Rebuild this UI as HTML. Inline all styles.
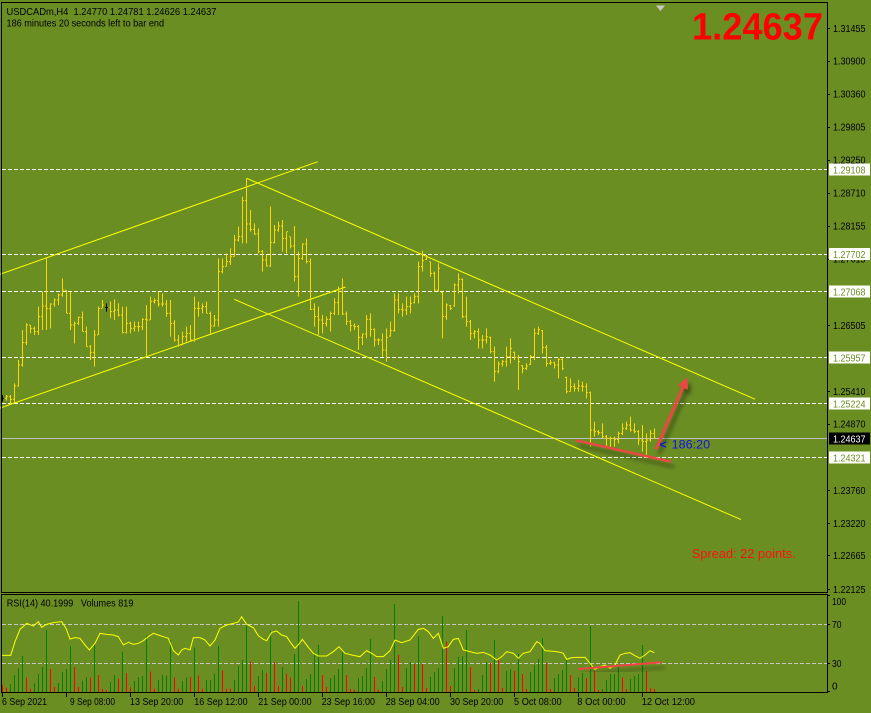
<!DOCTYPE html>
<html><head><meta charset="utf-8"><style>
html,body{margin:0;padding:0;background:#6B8E23;width:871px;height:713px;overflow:hidden}
svg{display:block}
text{font-family:"Liberation Sans","DejaVu Sans",sans-serif;white-space:pre}
</style></head><body>
<svg width="871" height="713" viewBox="0 0 871 713" xmlns="http://www.w3.org/2000/svg">
<defs>
<filter id="sh" x="-20%" y="-20%" width="140%" height="160%">
<feGaussianBlur in="SourceAlpha" stdDeviation="2"/>
<feOffset dx="3" dy="5" result="b"/>
<feComponentTransfer><feFuncA type="linear" slope="0.45"/></feComponentTransfer>
<feMerge><feMergeNode/><feMergeNode in="SourceGraphic"/></feMerge>
</filter>
</defs>
<rect width="871" height="713" fill="#6B8E23"/>

<g stroke="#ffffff" stroke-width="1" stroke-dasharray="4 2" fill="none">
<path d="M2 169.5H827M2 254.5H827M2 291.5H827M2 357.5H827M2 403.5H827M2 457.5H827"/>
</g>
<path d="M2 438.5H827" stroke="#c0c0c0" stroke-width="1"/>

<g stroke="#ffff00" stroke-width="1" fill="none">
<path d="M0 274.3L317.7 161.7"/>
<path d="M0 408L345.5 287"/>
<path d="M246.7 178.3L755 399.2"/>
<path d="M234.3 299.3L741 519.6"/>
</g>

<g transform="translate(0 160) scale(1 0.333333)">
<path vector-effect="non-scaling-stroke" stroke="#FFD700" stroke-width="1" fill="none" d="M6.5 705V722M5 715h1M7 710h1M10.5 705V735M9 710h1M11 718h1M14.5 670V730M13 718h1M15 678h1M18.5 600V680M17 678h1M19 615h1M22.5 510V620M21 615h1M23 548h1M26.5 490V555M25 548h1M27 495h1M30.5 495V520M29 495h1M31 505h1M34.5 500V525M33 505h1M35 515h1M38.5 440V525M37 515h1M39 470h1M42.5 395V510M41 470h1M43 438h1M46.5 295V510M45 438h1M47 445h1M50.5 430V505M49 445h1M51 432h1M54.5 415V440M53 432h1M55 420h1M58.5 400V435M57 420h1M59 405h1M62.5 355V410M61 405h1M63 390h1M66.5 390V460M65 390h1M67 460h1M70.5 395V510M69 460h1M71 495h1M74.5 485V550M73 495h1M75 490h1M78.5 470V495M77 490h1M79 472h1M82.5 455V515M81 472h1M83 515h1M86.5 500V560M85 515h1M87 560h1M90.5 555V600M89 560h1M91 577h1M94.5 510V620M93 577h1M95 525h1M98.5 440V525M97 525h1M99 445h1M102.5 420V445M101 445h1M103 435h1M110.5 425V475M109 442h1M111 455h1M114.5 418V480M113 455h1M115 450h1M118.5 430V470M117 450h1M119 465h1M122.5 440V520M121 465h1M123 518h1M126.5 440V520M125 518h1M127 490h1M130.5 485V520M129 490h1M131 505h1M134.5 485V515M133 505h1M135 500h1M138.5 485V515M137 500h1M139 500h1M142.5 475V510M141 500h1M143 478h1M146.5 435V590M145 478h1M147 480h1M150.5 410V480M149 480h1M151 425h1M154.5 415V430M153 425h1M155 422h1M158.5 395V440M157 422h1M159 432h1M162.5 400V440M161 432h1M163 432h1M166.5 420V470M165 432h1M167 460h1M170.5 420V530M169 460h1M171 490h1M174.5 480V545M173 490h1M175 540h1M178.5 525V560M177 540h1M179 555h1M182.5 515V555M181 555h1M183 530h1M186.5 500V545M185 530h1M187 520h1M190.5 495V545M189 520h1M191 540h1M194.5 410V545M193 540h1M195 445h1M198.5 425V470M197 445h1M199 445h1M202.5 430V460M201 445h1M203 440h1M206.5 425V460M205 440h1M207 460h1M210.5 455V520M209 460h1M211 498h1M214.5 465V500M213 498h1M215 480h1M218.5 295V500M217 480h1M219 335h1M222.5 295V340M221 335h1M223 320h1M226.5 280V320M225 320h1M227 305h1M230.5 265V315M229 305h1M231 290h1M234.5 225V290M233 290h1M235 240h1M238.5 200V245M237 240h1M239 230h1M242.5 110V250M241 230h1M243 122h1M246.5 55V250M245 122h1M247 192h1M250.5 150V215M249 192h1M251 208h1M254.5 190V225M253 208h1M255 222h1M258.5 205V280M257 222h1M259 275h1M262.5 270V335M261 275h1M263 300h1M266.5 285V320M265 300h1M267 318h1M270.5 140V320M269 318h1M271 248h1M274.5 195V250M273 248h1M275 210h1M278.5 185V215M277 210h1M279 198h1M282.5 180V275M281 198h1M283 235h1M286.5 215V280M285 235h1M287 215h1M290.5 230V265M289 230h1M291 258h1M294.5 198V365M293 258h1M295 350h1M298.5 275V410M297 350h1M299 295h1M302.5 250V300M301 295h1M303 252h1M306.5 235V310M305 252h1M307 305h1M310.5 295V450M309 305h1M311 448h1M314.5 430V500M313 448h1M315 470h1M318.5 440V525M317 470h1M319 480h1M322.5 465V520M321 480h1M323 490h1M326.5 470V500M325 490h1M327 478h1M330.5 455V515M329 478h1M331 460h1M334.5 415V465M333 460h1M335 428h1M338.5 380V465M337 428h1M339 395h1M342.5 355V465M341 395h1M343 462h1M346.5 455V495M345 462h1M347 485h1M350.5 480V515M349 485h1M351 497h1M354.5 490V510M353 497h1M355 500h1M358.5 495V570M357 500h1M359 532h1M362.5 520V555M361 532h1M363 522h1M366.5 465V535M365 522h1M367 478h1M370.5 460V530M369 478h1M371 508h1M374.5 505V560M373 508h1M375 540h1M378.5 535V555M377 540h1M379 540h1M382.5 520V590M381 540h1M383 570h1M386.5 505V605M385 570h1M387 532h1M390.5 485V530M389 528h1M391 512h1M394.5 400V515M393 512h1M395 420h1M398.5 400V460M397 420h1M399 448h1M402.5 430V470M401 448h1M403 450h1M406.5 410V465M405 450h1M407 440h1M410.5 410V460M409 440h1M411 430h1M414.5 400V430M413 428h1M415 410h1M418.5 305V430M417 410h1M419 320h1M422.5 272V335M421 320h1M423 302h1M426.5 285V300M425 298h1M427 290h1"/>
<path vector-effect="non-scaling-stroke" stroke="#000000" stroke-width="1" fill="none" d="M2.5 705V725M1 715h3M106.5 430V455M105 442h3"/>
</g>
<g transform="translate(0 240) scale(1 0.333333)">
<path vector-effect="non-scaling-stroke" stroke="#FFD700" stroke-width="1" fill="none" d="M430.5 65V110M429 65h1M431 100h1M434.5 95V155M433 100h1M435 150h1M438.5 70V155M437 150h1M439 85h1M442.5 155V295M441 157h1M443 230h1M446.5 190V240M445 230h1M447 195h1M450.5 195V210M449 197h1M451 205h1M454.5 130V200M453 198h1M455 135h1M458.5 100V160M457 135h1M459 118h1M462.5 115V235M461 118h1M463 230h1M466.5 170V260M465 230h1M467 245h1M470.5 240V300M469 245h1M471 280h1M474.5 270V295M473 280h1M475 275h1M478.5 265V325M477 275h1M479 300h1M482.5 285V325M481 300h1M483 300h1M486.5 265V310M485 300h1M487 290h1M490.5 290V340M489 292h1M491 335h1M494.5 320V425M493 335h1M495 395h1M498.5 365V400M497 395h1M499 372h1M502.5 360V380M501 372h1M503 365h1M506.5 320V380M505 365h1M507 350h1M510.5 295V370M509 350h1M511 325h1M514.5 335V360M513 337h1M515 352h1M518.5 345V450M517 352h1M519 365h1M522.5 375V400M521 377h1M523 385h1M526.5 370V390M525 385h1M527 378h1M530.5 345V375M529 373h1M531 350h1M534.5 265V360M533 350h1M535 280h1M538.5 260V285M537 280h1M539 268h1M542.5 270V340M541 272h1M543 322h1M546.5 315V380M545 322h1M547 370h1M550.5 360V375M549 370h1M551 368h1M554.5 365V385M553 368h1M555 375h1M558.5 355V415M557 375h1M559 358h1M562.5 355V390M561 358h1M563 385h1M566.5 410V460M565 412h1M567 455h1M570.5 415V455M569 455h1M571 440h1M574.5 430V455M573 440h1M575 445h1M578.5 420V455M577 445h1M579 438h1M582.5 425V455M581 438h1M583 440h1M586.5 430V475M585 440h1M587 458h1M590.5 455V620M589 458h1M591 570h1M594.5 545V590M593 570h1M595 575h1M598.5 570V585M597 575h1M599 578h1M602.5 550V595M601 578h1M603 590h1M606.5 585V620M605 590h1M607 595h1M610.5 590V625M609 595h1M611 595h1M614.5 590V620M613 595h1M615 598h1M618.5 575V610M617 598h1M619 580h1M622.5 550V585M621 580h1M623 565h1M626.5 545V570M625 565h1M627 555h1M630.5 530V575M629 555h1M631 570h1M634.5 550V580M633 570h1M635 575h1M638.5 570V615M637 575h1M639 600h1M642.5 555V635M641 600h1M643 605h1M646.5 580V645M645 605h1M647 600h1M650.5 570V605M649 600h1M651 580h1M654.5 565V595M653 580h1M655 595h1"/>
</g>

<g filter="url(#sh)">
<path d="M575.7 440.3L671 461.7" stroke="#ee4444" stroke-width="2.5" fill="none"/>
<path d="M656 449.3L682.9 387.4" stroke="#ee4444" stroke-width="3" fill="none"/>
<path d="M687.3 377.3L687.8 389.6L677.9 385.3Z" fill="#ee4444"/>
</g>

<text x="659.5" y="448.5" font-size="12" font-weight="bold" fill="#1010ee">&lt;</text>
<text x="671.7" y="448.3" font-size="11.5" fill="#1010ee" textLength="38.5" lengthAdjust="spacingAndGlyphs">186:20</text>

<text x="692" y="39.3" font-size="38" font-weight="bold" fill="#ff0000" textLength="131" lengthAdjust="spacingAndGlyphs">1.24637</text>
<text x="691.7" y="558" font-size="13" fill="#ff1010" textLength="104" lengthAdjust="spacingAndGlyphs">Spread: 22 points.</text>

<text x="6.5" y="15" font-size="10.5" fill="#000" textLength="210" lengthAdjust="spacingAndGlyphs">USDCADm,H4  1.24770 1.24781 1.24626 1.24637</text>
<text x="6.5" y="26.7" font-size="10.5" fill="#000" textLength="157.6" lengthAdjust="spacingAndGlyphs">186 minutes 20 seconds left to bar end</text>

<path d="M656 5.5H665L660.5 11Z" fill="#c8c8c8"/>

<g font-size="10" fill="#000">
<text x="833" y="32.2" textLength="32.5" lengthAdjust="spacingAndGlyphs">1.31455</text>
<text x="833" y="64.5" textLength="32.5" lengthAdjust="spacingAndGlyphs">1.30900</text>
<text x="833" y="97.5" textLength="32.5" lengthAdjust="spacingAndGlyphs">1.30360</text>
<text x="833" y="130.5" textLength="32.5" lengthAdjust="spacingAndGlyphs">1.29805</text>
<text x="833" y="163.5" textLength="32.5" lengthAdjust="spacingAndGlyphs">1.29250</text>
<text x="833" y="196.5" textLength="32.5" lengthAdjust="spacingAndGlyphs">1.28710</text>
<text x="833" y="229.5" textLength="32.5" lengthAdjust="spacingAndGlyphs">1.28155</text>
<text x="833" y="262.5" textLength="32.5" lengthAdjust="spacingAndGlyphs">1.27615</text>
<text x="833" y="329.2" textLength="32.5" lengthAdjust="spacingAndGlyphs">1.26505</text>
<text x="833" y="394.8" textLength="32.5" lengthAdjust="spacingAndGlyphs">1.25410</text>
<text x="833" y="427.5" textLength="32.5" lengthAdjust="spacingAndGlyphs">1.24870</text>
<text x="833" y="494.2" textLength="32.5" lengthAdjust="spacingAndGlyphs">1.23760</text>
<text x="833" y="526.8" textLength="32.5" lengthAdjust="spacingAndGlyphs">1.23220</text>
<text x="833" y="559.2" textLength="32.5" lengthAdjust="spacingAndGlyphs">1.22665</text>
<text x="833" y="592.8" textLength="32.5" lengthAdjust="spacingAndGlyphs">1.22125</text>
</g>
<path stroke="#000" stroke-width="1" d="M827 28.5h3M827 61.5h3M827 94.5h3M827 127.5h3M827 160.5h3M827 193.5h3M827 226.5h3M827 259.5h3M827 325.5h3M827 391.5h3M827 424.5h3M827 490.5h3M827 523.5h3M827 555.5h3M827 589.5h3"/>

<g font-size="10">
<rect x="829" y="163.5" width="41" height="12" fill="#fff"/>
<text x="833" y="173.3" fill="#6B8E23" textLength="32.5" lengthAdjust="spacingAndGlyphs">1.29108</text>
<rect x="829" y="248" width="41" height="12" fill="#fff"/>
<text x="833" y="257.8" fill="#6B8E23" textLength="32.5" lengthAdjust="spacingAndGlyphs">1.27702</text>
<rect x="829" y="285.5" width="41" height="12" fill="#fff"/>
<text x="833" y="295.3" fill="#6B8E23" textLength="32.5" lengthAdjust="spacingAndGlyphs">1.27068</text>
<rect x="829" y="351.5" width="41" height="12" fill="#fff"/>
<text x="833" y="361.3" fill="#6B8E23" textLength="32.5" lengthAdjust="spacingAndGlyphs">1.25957</text>
<rect x="829" y="397.5" width="41" height="12" fill="#fff"/>
<text x="833" y="407.3" fill="#6B8E23" textLength="32.5" lengthAdjust="spacingAndGlyphs">1.25224</text>
<rect x="829" y="432.5" width="41" height="12" fill="#000"/>
<text x="833" y="442.3" fill="#fff" textLength="32.5" lengthAdjust="spacingAndGlyphs">1.24637</text>
<rect x="829" y="451.5" width="41" height="12" fill="#fff"/>
<text x="833" y="461.3" fill="#6B8E23" textLength="32.5" lengthAdjust="spacingAndGlyphs">1.24321</text>
</g>

<rect x="828" y="593" width="43" height="2" fill="#6B8E23"/>

<path d="M2 624.5H827M2 663.5H827" stroke="#c8c8c8" stroke-width="1" stroke-dasharray="4 2" fill="none"/>

<g transform="translate(0 590) scale(1 0.333333)">
<path vector-effect="non-scaling-stroke" stroke="#008000" stroke-width="1" fill="none" d="M10.5 306V282M14.5 306V255M18.5 306V235M22.5 306V198M34.5 306V280M38.5 306V252M42.5 306V231M46.5 306V120M58.5 306V279M62.5 306V246M66.5 306V237M70.5 306V168M82.5 306V272M86.5 306V262M94.5 306V160M110.5 306V276M114.5 306V255M122.5 306V185M134.5 306V273M138.5 306V261M142.5 306V258M146.5 306V137M158.5 306V270M162.5 306V255M166.5 306V257M170.5 306V150M182.5 306V273M186.5 306V262M194.5 306V173M206.5 306V270M210.5 306V270M214.5 306V251M218.5 306V168M234.5 306V270M238.5 306V228M242.5 306V210M246.5 306V104M258.5 306V258M262.5 306V240M270.5 306V123M282.5 306V231M294.5 306V192M298.5 306V33M306.5 306V267M310.5 306V252M314.5 306V188M318.5 306V165M330.5 306V264M334.5 306V255M338.5 306V237M342.5 306V183M358.5 306V264M362.5 306V258M366.5 306V234M370.5 306V147M382.5 306V273M386.5 306V237M390.5 306V210M394.5 306V42M406.5 306V234M410.5 306V216M418.5 306V138M430.5 306V261M434.5 306V246M438.5 306V234M442.5 306V78M454.5 306V234M458.5 306V201M462.5 306V198M466.5 306V120M478.5 306V297M482.5 306V255M486.5 306V216M494.5 306V150M506.5 306V243M510.5 306V237M518.5 306V192M530.5 306V246M534.5 306V225M538.5 306V207M542.5 306V144M554.5 306V264M558.5 306V252M562.5 306V240M566.5 306V210M578.5 306V262M582.5 306V249M590.5 306V108M602.5 306V297M606.5 306V270M610.5 306V252M614.5 306V252M618.5 306V231M630.5 306V267M634.5 306V258M638.5 306V252M642.5 306V165"/>
<path vector-effect="non-scaling-stroke" stroke="#ff0000" stroke-width="1" fill="none" d="M2.5 306V285M6.5 306V293M26.5 306V262M30.5 306V296M50.5 306V237M54.5 306V291M74.5 306V231M78.5 306V291M90.5 306V262M98.5 306V255M102.5 306V297M106.5 306V300M118.5 306V266M126.5 306V249M130.5 306V292M150.5 306V245M154.5 306V296M174.5 306V262M178.5 306V296M190.5 306V261M198.5 306V257M202.5 306V296M222.5 306V242M226.5 306V296M230.5 306V296M250.5 306V215M254.5 306V288M266.5 306V248M274.5 306V216M278.5 306V288M286.5 306V251M290.5 306V262M302.5 306V288M322.5 306V255M326.5 306V291M346.5 306V255M350.5 306V297M354.5 306V299M374.5 306V261M378.5 306V299M398.5 306V195M402.5 306V291M414.5 306V222M422.5 306V222M426.5 306V294M446.5 306V155M450.5 306V288M470.5 306V231M474.5 306V300M490.5 306V219M498.5 306V210M502.5 306V294M514.5 306V243M522.5 306V252M526.5 306V297M546.5 306V219M550.5 306V297M570.5 306V255M574.5 306V294M586.5 306V264M594.5 306V243M598.5 306V300M622.5 306V262M626.5 306V297M646.5 306V243M650.5 306V294M654.5 306V297"/>
</g>

<g fill="none" stroke="#ffff00" stroke-width="1">
<polyline vector-effect="non-scaling-stroke" transform="translate(0 590) scale(0.333333)" points="5,196 32,196 45,155 60,118 80,100 100,108 115,95 125,112 140,103 160,98 185,95 198,115 210,147 225,143 240,145 255,165 268,180 285,160 300,130 320,133 340,135 355,140 370,165 385,157 400,163 415,160 430,152 445,140 460,130 475,135 490,140 505,145 520,182 535,195 545,180 555,175 570,180 580,143 600,143 615,150 630,168 645,150 660,115 680,105 700,100 715,96 725,80 740,103 760,113 775,137 790,148 800,152 815,127 830,123 845,135 860,140 870,155 885,175 900,158"/>
<polyline vector-effect="non-scaling-stroke" transform="translate(290 590) scale(0.333333)" points="30,158 37,148 55,172 70,190 85,198 110,198 130,185 147,170 165,190 190,196 210,200 230,182 245,190 260,200 280,200 300,182 315,150 335,158 360,150 385,118 400,115 415,125 430,145 445,130 460,175 475,170 490,148 505,145 520,180 540,185 560,190 580,187 600,195 620,210 635,200 650,185 670,190 685,205 700,190 720,185 740,155 750,160 765,182 800,185 810,187"/>
<polyline vector-effect="non-scaling-stroke" transform="translate(560 590) scale(0.333333)" points="0,187 10,190 20,208 35,203 50,202 75,202 90,220 105,238 120,230 135,225 150,235 165,225 180,195 195,190 210,188 225,197 240,205 255,195 270,182 283,188"/>
</g>

<path filter="url(#sh)" d="M578.3 669L661.7 662.3" stroke="#ee4444" stroke-width="2" fill="none"/>

<text x="6.7" y="606.7" font-size="10.5" fill="#000" textLength="126.7" lengthAdjust="spacingAndGlyphs">RSI(14) 40.1999   Volumes 819</text>

<g font-size="10" fill="#000">
<text x="832" y="605.2" textLength="14" lengthAdjust="spacingAndGlyphs">100</text>
<text x="832" y="628" textLength="9.5" lengthAdjust="spacingAndGlyphs">70</text>
<text x="832" y="667" textLength="9.5" lengthAdjust="spacingAndGlyphs">30</text>
<text x="832" y="689.5">0</text>
</g>
<path stroke="#000" stroke-width="1" d="M827 624.5h3M827 663.5h3M827 595.5h3M827 691.5h3"/>

<path d="M1.5 2.5H827.5V592.5H1.5Z" stroke="#000" stroke-width="1" fill="none"/>
<path d="M1.5 594.5H827.5V692.5H1.5Z" stroke="#000" stroke-width="1" fill="none"/>

<path stroke="#000" stroke-width="1" d="M2.5 692V697M66.5 692V697M130.5 692V697M194.5 692V697M258.5 692V697M322.5 692V697M386.5 692V697M450.5 692V697M514.5 692V697M578.5 692V697M642.5 692V697"/>
<g font-size="10.5" fill="#000">
<text x="2" y="705" textLength="45" lengthAdjust="spacingAndGlyphs">6 Sep 2021</text>
<text x="70" y="705" textLength="45" lengthAdjust="spacingAndGlyphs">9 Sep 08:00</text>
<text x="130" y="705" textLength="53.3" lengthAdjust="spacingAndGlyphs">13 Sep 20:00</text>
<text x="194.3" y="705" textLength="53.3" lengthAdjust="spacingAndGlyphs">16 Sep 12:00</text>
<text x="258.3" y="705" textLength="53.3" lengthAdjust="spacingAndGlyphs">21 Sep 00:00</text>
<text x="321.7" y="705" textLength="53.3" lengthAdjust="spacingAndGlyphs">23 Sep 16:00</text>
<text x="385.7" y="705" textLength="54" lengthAdjust="spacingAndGlyphs">28 Sep 04:00</text>
<text x="450" y="705" textLength="53.3" lengthAdjust="spacingAndGlyphs">30 Sep 20:00</text>
<text x="514" y="705" textLength="47.7" lengthAdjust="spacingAndGlyphs">5 Oct 08:00</text>
<text x="577.3" y="705" textLength="48.3" lengthAdjust="spacingAndGlyphs">8 Oct 00:00</text>
<text x="641.7" y="705" textLength="53.3" lengthAdjust="spacingAndGlyphs">12 Oct 12:00</text>
</g>
</svg>
</body></html>
